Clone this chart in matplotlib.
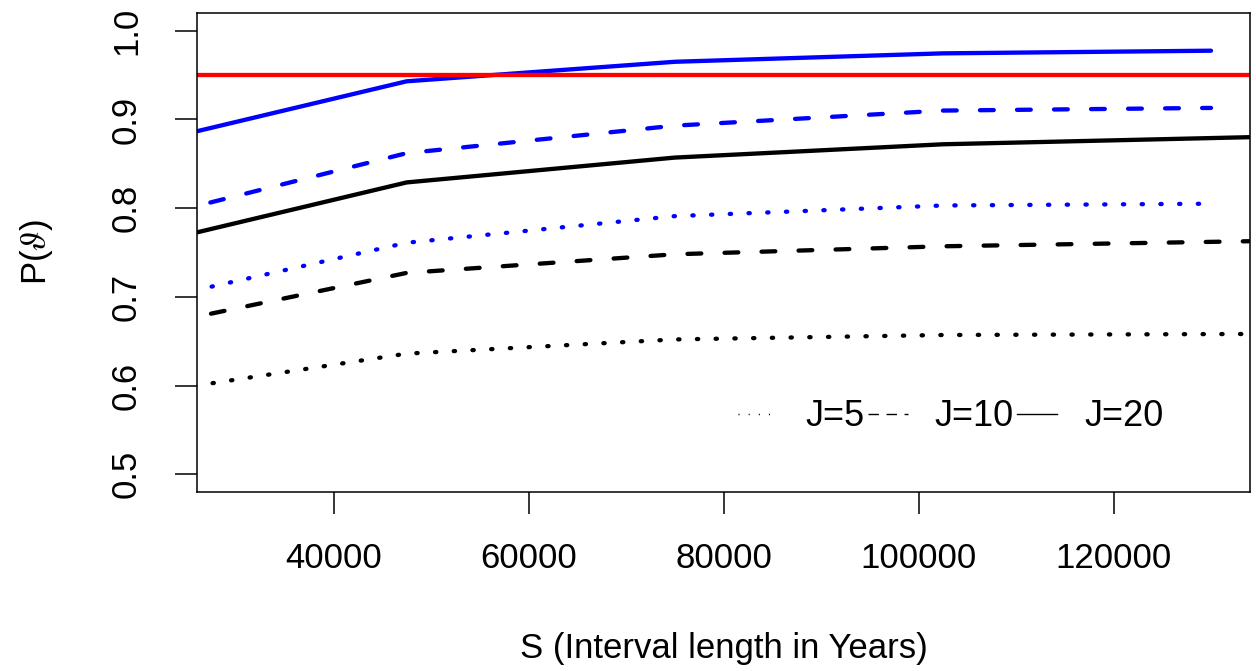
import matplotlib
matplotlib.use("Agg")
import matplotlib.pyplot as plt
from matplotlib.lines import Line2D

plt.rcParams['font.family'] = ['Liberation Sans', 'DejaVu Sans']
plt.rcParams['mathtext.fontset'] = 'stix'

# interval length S (years)
s_blue = [20000, 47500, 75000, 102500, 130000]
s_black = [20000, 47500, 75000, 102500, 130000, 157500]

# P(theta)
blue_j20 = [0.871, 0.943, 0.965, 0.9745, 0.9775]
blue_j10 = [0.786, 0.862, 0.893, 0.910, 0.913]
blue_j5 = [0.693, 0.761, 0.791, 0.803, 0.805]
black_j20 = [0.757, 0.829, 0.857, 0.872, 0.879, 0.886]
black_j10 = [0.664, 0.727, 0.748, 0.757, 0.762, 0.767]
black_j5 = [0.590, 0.636, 0.652, 0.657, 0.658, 0.659]

target = 0.95
legend_labels = ['J=5', 'J=10', 'J=20']
x_ticks = [40000, 60000, 80000, 100000, 120000]
y_ticks = [0.5, 0.6, 0.7, 0.8, 0.9, 1.0]

fig = plt.figure(figsize=(12.56, 6.71), dpi=100)
ax = fig.add_axes([197 / 1256, 1 - 492 / 671, 1053 / 1256, 479 / 671])

lw = 3.1
solid = '-'
dashed = (0, (3.2, 5.4))
dotted = (0, (0.3, 4.05))
kw = dict(lw=lw, dash_capstyle='round', solid_capstyle='round')

ax.plot(s_black, black_j20, color='black', linestyle=solid, **kw)
ax.plot(s_black, black_j10, color='black', linestyle=dashed, **kw)
ax.plot(s_black, black_j5, color='black', linestyle=dotted, **kw)
ax.plot(s_blue, blue_j20, color='blue', linestyle=solid, **kw)
ax.plot(s_blue, blue_j10, color='blue', linestyle=dashed, **kw)
ax.plot(s_blue, blue_j5, color='blue', linestyle=dotted, **kw)
ax.axhline(target, color='red', lw=lw)

ax.set_xlim(26000, 134000)
ax.set_ylim(0.48, 1.02)
ax.set_xticks(x_ticks)
ax.set_xticklabels([str(v) for v in x_ticks])
ax.set_yticks(y_ticks)
ax.set_yticklabels([f'{v:.1f}' for v in y_ticks])

for sp in ax.spines.values():
    sp.set_linewidth(1.1)
ax.tick_params(length=15.8, width=1.1, labelsize=25, pad=20)
ax.tick_params(axis='y', labelrotation=90, pad=23)
for lab in ax.get_yticklabels():
    lab.set_va('center')

ax.set_xlabel('S (Interval length in Years)', fontsize=25, va='center')
ax.xaxis.set_label_coords(0.5, -0.326)
ax.set_ylabel(r'P($\vartheta$)', fontsize=25, va='center')
ax.yaxis.set_label_coords(-0.152, 0.5)

handles = [
    Line2D([], [], color='black', lw=1.0, linestyle=(0, (0.8, 6.5))),
    Line2D([], [], color='black', lw=1.0, linestyle=(0, (7.5, 5.5))),
    Line2D([], [], color='black', lw=1.0, linestyle='-'),
]
ax.legend(handles, legend_labels, loc='center left', bbox_to_anchor=(0.514, 0.157),
          ncol=3, frameon=False, fontsize=26, handlelength=1.1, handletextpad=0.75,
          columnspacing=0.1, borderpad=0, borderaxespad=0)

fig.savefig('out.png', dpi=100)
